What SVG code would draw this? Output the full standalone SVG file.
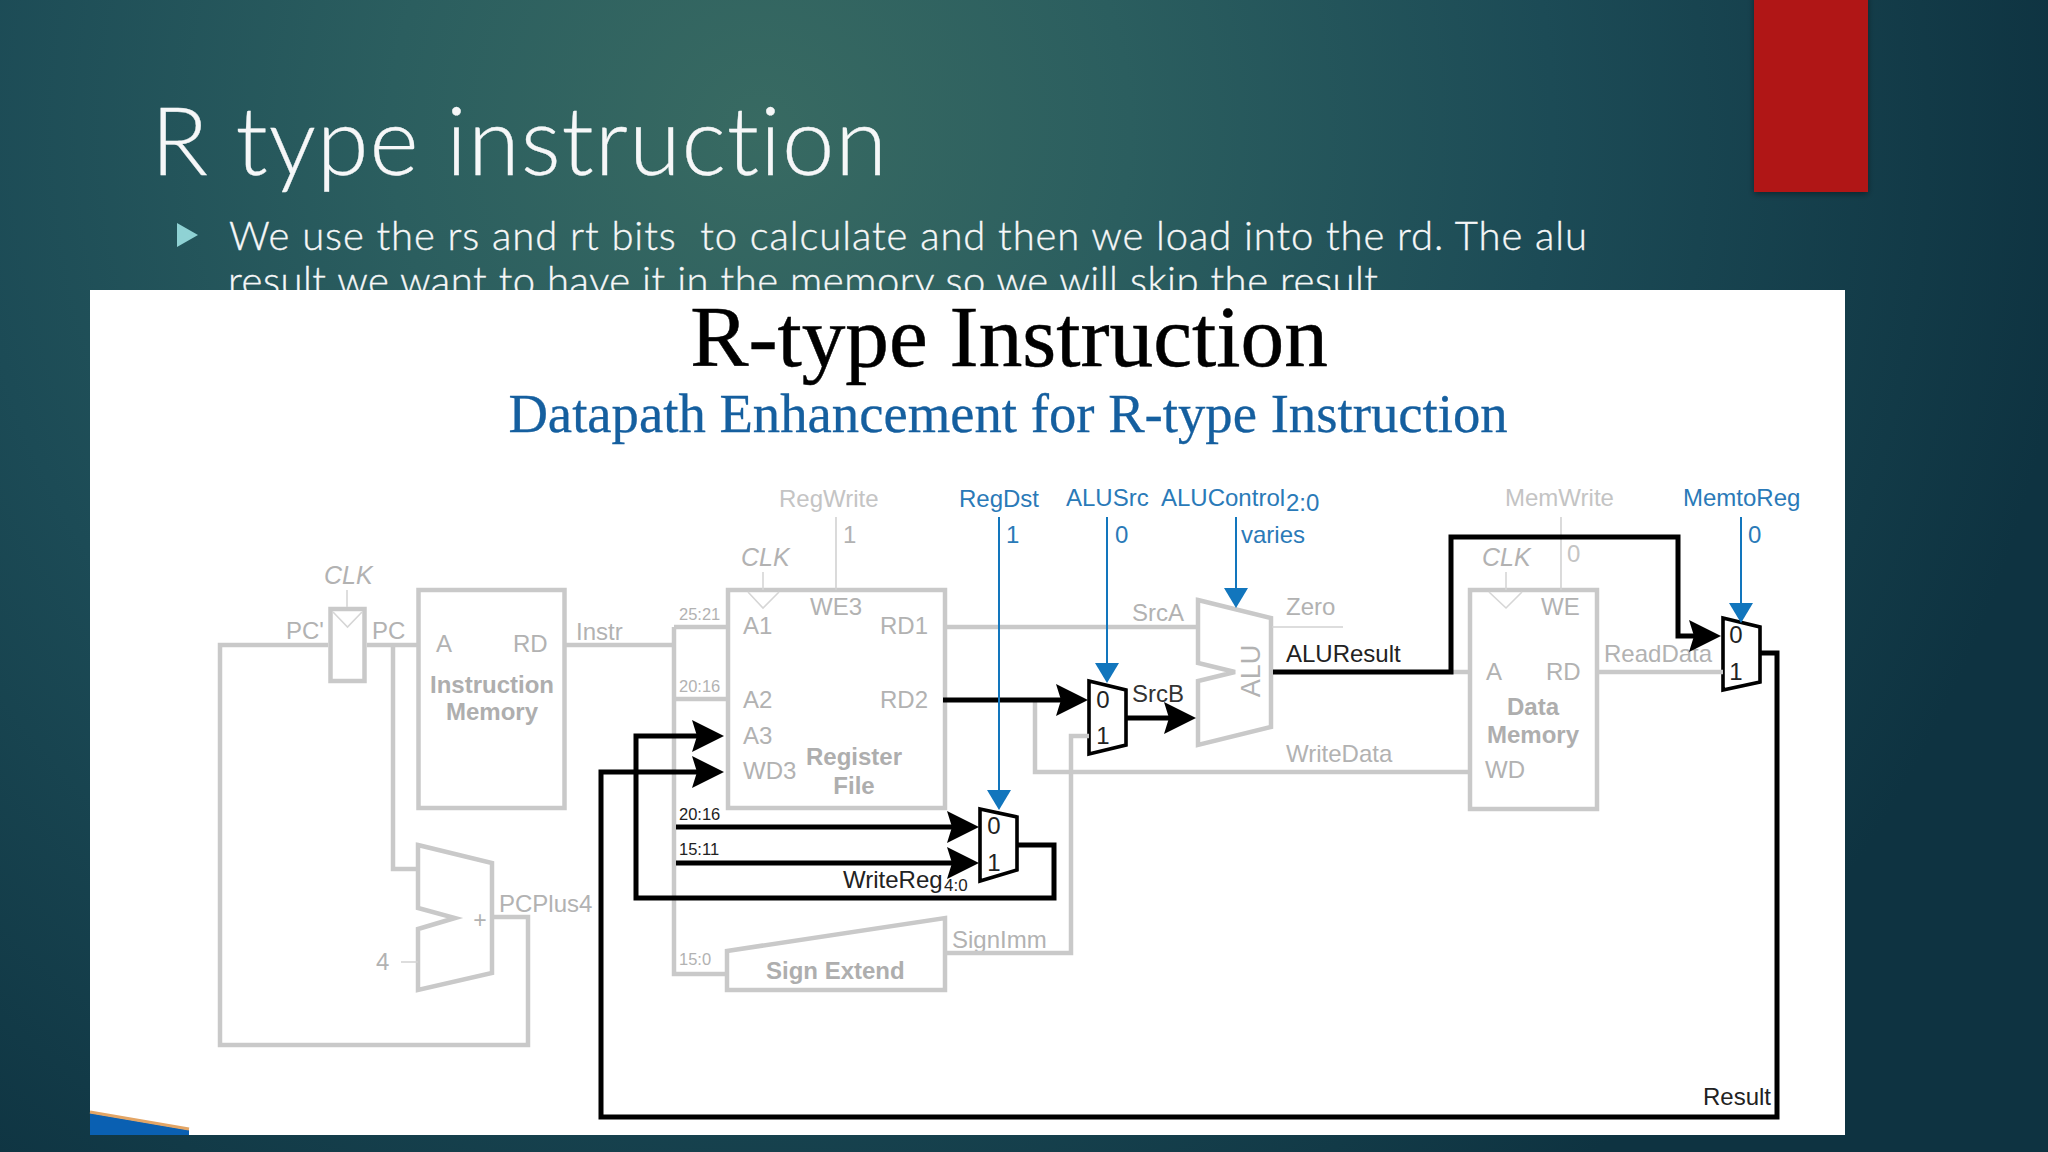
<svg xmlns="http://www.w3.org/2000/svg" width="2048" height="1152" viewBox="0 0 2048 1152">
<style>
text{font-family:"Liberation Sans",Arial,sans-serif;font-size:24px;fill:#b2b2b2}
.slide{font-family:Lato,"Noto Sans",sans-serif;font-weight:300;fill:#f6f7f8;font-variant-ligatures:none;stroke:#f6f7f8;stroke-width:.35}
.ser{font-family:"Liberation Serif","Times New Roman",serif}
.b{font-weight:bold;fill:#aeaeae}
.lt{fill:#c4c4c4}
.blue{fill:#2a7ab8}
.dk{fill:#222}
.sm{font-size:16.5px}
.c{text-anchor:middle}
.i{font-style:italic}
.box{fill:#fff;stroke:#c9c9c9;stroke-width:4.5}
.gw{fill:none;stroke:#c9c9c9;stroke-width:4.5}
.gt{fill:none;stroke:#d2d2d2;stroke-width:1.6}
.clk{fill:none;stroke:#d6d6d6;stroke-width:1.6}
.kw{fill:none;stroke:#000;stroke-width:5}
.bw{fill:none;stroke:#1276bd;stroke-width:2}
.mux{fill:#fff;stroke:#000;stroke-width:3.6}
</style>
<defs>
<radialGradient id="bg" gradientUnits="userSpaceOnUse" cx="760" cy="130" r="1320">
<stop offset="0" stop-color="#386a62"/><stop offset=".28" stop-color="#2b5e5f"/><stop offset=".6" stop-color="#1c4b56"/><stop offset="1" stop-color="#0e3341"/>
</radialGradient>
<filter id="sh" x="-20%" y="-20%" width="140%" height="140%"><feDropShadow dx="0" dy="2" stdDeviation="3" flood-color="#000" flood-opacity=".4"/></filter>
<marker id="ka" markerUnits="userSpaceOnUse" viewBox="0 0 32 32" markerWidth="32" markerHeight="32" refX="20" refY="16" orient="auto"><path d="M0 0 32 16 0 32 5 16Z" fill="#000"/></marker>
<marker id="ba" markerUnits="userSpaceOnUse" viewBox="0 0 22 24" markerWidth="22" markerHeight="24" refX="10" refY="12" orient="auto"><path d="M0 0 20 12 0 24Z" fill="#1276bd"/></marker>
</defs>
<rect width="2048" height="1152" fill="url(#bg)"/>
<rect id="accent" x="1754" y="-6" width="114" height="198" fill="#b01812" filter="url(#sh)"/>
<text class="slide" x="151" y="175" style="font-size:94px" textLength="736">R type instruction</text>
<polygon points="177,223 198,235 177,247" fill="#8fd2d4"/>
<text class="slide" x="229" y="250" style="font-size:40px;white-space:pre" textLength="1358">We use the rs and rt bits  to calculate and then we load into the rd. The alu</text>
<text class="slide" x="228" y="295" style="font-size:40px" textLength="1150">result we want to have it in the memory so we will skip the result</text>
<rect id="picture" x="90" y="290" width="1755" height="845" fill="#fff"/>
<polygon points="90,1113 189,1130 189,1135 90,1135" fill="#0a60b2"/>
<polyline points="90,1112 189,1129" fill="none" stroke="#e3a565" stroke-width="3"/>
<text class="ser c" x="1009" y="366" style="font-size:87.3px;fill:#000;stroke:#000;stroke-width:.5">R-type Instruction</text>
<text class="ser c" x="1008" y="432" style="font-size:54.7px;fill:#155f9f;stroke:#155f9f;stroke-width:.3">Datapath Enhancement for R-type Instruction</text>

<g id="pc-register">
<rect class="box" x="330.500" y="609" width="34" height="72"/>
<path class="clk" d="M333 612 347.500 627 362 612"/>
<text class="i" x="324" y="584" style="font-size:25px">CLK</text>
<text x="286" y="639">PC'</text>
<text x="372" y="639">PC</text>
</g>
<g id="instruction-memory">
<rect class="box" x="418.500" y="590" width="146" height="218"/>
<text x="436" y="652">A</text><text x="513" y="652">RD</text>
<text class="b c" x="492" y="693">Instruction</text>
<text class="b c" x="492" y="720">Memory</text>
<text x="576" y="640">Instr</text>
</g>
<g id="register-file">
<rect class="box" x="728" y="590" width="217" height="218"/>
<path class="clk" d="M748 592 763 608 779 592"/>
<text class="i" x="741" y="566" style="font-size:25px">CLK</text>
<text class="lt" x="779" y="507">RegWrite</text>
<text x="843" y="543">1</text>
<text x="810" y="615">WE3</text>
<text x="743" y="634">A1</text><text x="880" y="634">RD1</text>
<text x="743" y="708">A2</text><text x="880" y="708">RD2</text>
<text x="743" y="744">A3</text><text x="743" y="779">WD3</text>
<text class="b c" x="854" y="765">Register</text>
<text class="b c" x="854" y="794">File</text>
<text class="sm" x="679" y="620">25:21</text>
<text class="sm" x="679" y="692">20:16</text>
<text class="sm dk" x="679" y="820">20:16</text>
<text class="sm dk" x="679" y="855">15:11</text>
<text class="sm" x="679" y="965">15:0</text>
</g>
<g id="adder">
<polygon class="box" points="418,845 492,863 492,973 418,990 418,929 455,918 418,908"/>
<text class="c" x="480" y="928" style="font-size:23px">+</text>
<text x="376" y="970">4</text>
<text x="499" y="912">PCPlus4</text>
</g>
<g id="sign-extend">
<polygon class="box" points="727,951 945,918 945,990 727,990"/>
<text class="b" x="766" y="979">Sign Extend</text>
<text x="952" y="948">SignImm</text>
</g>
<g id="regdst-mux">
<polygon class="mux" points="980,809 1017,817 1017,870 980,881"/>
<text class="c dk" x="994" y="834">0</text><text class="c dk" x="994" y="871">1</text>
<text class="dk" x="843" y="888">WriteReg</text><text class="dk" x="944" y="891" style="font-size:17px">4:0</text>
</g>
<g id="alusrc-mux">
<polygon class="mux" points="1089,681 1126,690 1126,745 1089,754"/>
<text class="c dk" x="1103" y="708">0</text><text class="c dk" x="1103" y="744">1</text>
<text style="fill:#333" x="1132" y="702">SrcB</text>
</g>
<g id="alu">
<polygon class="box" points="1198,600 1271,618 1271,727 1198,745 1198,681 1235,672 1198,663"/>
<text class="c" transform="translate(1260 671) rotate(-90)" style="font-size:27px">ALU</text>
<text x="1132" y="621">SrcA</text>
<text x="1286" y="615">Zero</text>
<text class="dk" x="1286" y="662">ALUResult</text>
<text x="1286" y="762">WriteData</text>
</g>
<g id="data-memory">
<rect class="box" x="1470" y="590" width="127" height="219"/>
<path class="clk" d="M1489 592 1506 608 1522 592"/>
<text class="i" x="1482" y="566" style="font-size:25px">CLK</text>
<text class="lt" x="1505" y="506">MemWrite</text>
<text class="lt" x="1567" y="562">0</text>
<text x="1541" y="615">WE</text>
<text x="1486" y="680">A</text><text x="1546" y="680">RD</text>
<text class="b c" x="1533" y="715">Data</text>
<text class="b c" x="1533" y="743">Memory</text>
<text x="1485" y="778">WD</text>
<text x="1604" y="662">ReadData</text>
</g>
<g id="memtoreg-mux">
<polygon class="mux" points="1723,618 1760,627 1760,682 1723,690"/>
<text class="c dk" x="1736" y="643">0</text><text class="c dk" x="1736" y="680">1</text>
<text class="dk" x="1703" y="1105">Result</text>
</g>

<g id="connectors">
<path class="gw" d="M328 645H220V1045H528V917H492"/>
<path class="gw" d="M367 645H418M393 645V869H418"/>
<path class="gw" d="M565 645H674M674 627H728M674 627V974H727M674 699H728"/>
<path class="gw" d="M945 627H1198"/>
<path class="gw" d="M1035 700V772H1470"/>
<path class="gw" d="M945 953H1071V736H1089"/>
<path class="gw" d="M1451 672H1470M1597 672H1723"/>
<path class="gt" d="M401 962H418M1272 627H1343"/>
<path class="gt" d="M836 517V590M1561 517V590"/>
<path class="clk" d="M347 590V607M763 572V590M1506 572V590"/>
<path class="kw" d="M676 827H967" marker-end="url(#ka)"/>
<path class="kw" d="M676 863H967" marker-end="url(#ka)"/>
<path class="kw" d="M1017 845H1054V898H636V736H712" marker-end="url(#ka)"/>
<path class="kw" d="M1760 653H1777V1117H601V772H712" marker-end="url(#ka)"/>
<path class="kw" d="M943 700H1076" marker-end="url(#ka)"/>
<path class="kw" d="M1126 718H1184" marker-end="url(#ka)"/>
<path class="kw" d="M1273 672H1451V537H1678V636H1709" marker-end="url(#ka)"/>
<path class="bw" d="M999 517V800" marker-end="url(#ba)"/>
<path class="bw" d="M1107 517V673" marker-end="url(#ba)"/>
<path class="bw" d="M1236 517V598" marker-end="url(#ba)"/>
<path class="bw" d="M1741 517V613" marker-end="url(#ba)"/>
</g>
<g id="controls">
<text class="blue" x="959" y="507">RegDst</text><text class="blue" x="1006" y="543">1</text>
<text class="blue" x="1066" y="506">ALUSrc</text><text class="blue" x="1115" y="543">0</text>
<text class="blue" x="1161" y="506">ALUControl</text><text class="blue" x="1286" y="511">2:0</text>
<text class="blue" x="1241" y="543">varies</text>
<text class="blue" x="1683" y="506">MemtoReg</text><text class="blue" x="1748" y="543">0</text>
</g>
</svg>
